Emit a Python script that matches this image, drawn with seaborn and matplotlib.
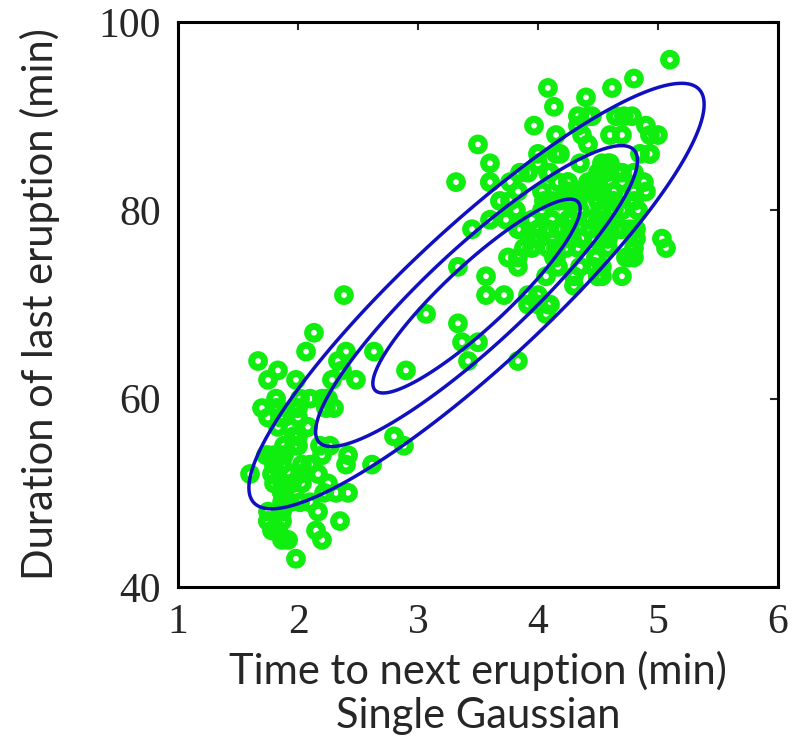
import numpy as np
import pandas as pd
import matplotlib
matplotlib.use("Agg")
import matplotlib.pyplot as plt
import seaborn as sns

# Old Faithful data: x = eruption duration, y = waiting time
x_vals = [3.600, 1.800, 3.333, 2.283, 4.533, 2.883, 4.700, 3.600, 1.950, 4.350,
          1.833, 3.917, 4.200, 1.750, 4.700, 2.167, 1.750, 4.800, 1.600, 4.250,
          1.800, 1.750, 3.450, 3.067, 4.533, 3.600, 1.967, 4.083, 3.850, 4.433,
          4.300, 4.467, 3.367, 4.033, 3.833, 2.017, 1.867, 4.833, 1.833, 4.783,
          4.350, 1.883, 4.567, 1.750, 4.533, 3.317, 3.833, 2.100, 4.633, 2.000,
          4.800, 4.716, 1.833, 4.833, 1.733, 4.883, 3.717, 1.667, 4.567, 4.317,
          2.233, 4.500, 1.750, 4.800, 1.817, 4.400, 4.167, 4.700, 2.067, 4.700,
          4.033, 1.967, 4.500, 4.000, 1.983, 5.067, 2.017, 4.567, 3.883, 3.600,
          4.133, 4.333, 4.100, 2.633, 4.067, 4.933, 3.950, 4.517, 2.167, 4.000,
          2.200, 4.333, 1.867, 4.817, 1.833, 4.300, 4.667, 3.750, 1.867, 4.900,
          2.483, 4.367, 2.100, 4.500, 4.050, 1.867, 4.700, 1.783, 4.850, 3.683,
          4.733, 2.300, 4.900, 4.417, 1.700, 4.633, 2.317, 4.600, 1.817, 4.417,
          2.617, 4.067, 4.250, 1.967, 4.600, 3.767, 1.917, 4.500, 2.267, 4.650,
          1.867, 4.167, 2.800, 4.333, 1.833, 4.383, 1.883, 4.933, 2.033, 3.733,
          4.233, 2.233, 4.533, 4.817, 4.333, 1.983, 4.633, 2.017, 5.100, 1.800,
          5.033, 4.000, 2.400, 4.600, 3.567, 4.000, 4.500, 4.083, 1.800, 3.967,
          2.200, 4.150, 2.000, 3.833, 3.500, 4.583, 2.367, 5.000, 1.933, 4.617,
          1.917, 2.083, 4.583, 3.333, 4.167, 4.333, 4.500, 2.417, 4.000, 4.167,
          1.883, 4.583, 4.250, 3.767, 2.033, 4.433, 4.083, 1.833, 4.417, 2.183,
          4.800, 1.833, 4.800, 4.100, 3.966, 4.233, 3.500, 4.366, 2.250, 4.667,
          2.100, 4.350, 4.133, 1.867, 4.600, 1.783, 4.367, 3.850, 1.933, 4.500,
          2.383, 4.700, 1.867, 3.833, 3.417, 4.233, 2.400, 4.800, 2.000, 4.150,
          1.867, 4.267, 1.750, 4.483, 4.000, 4.117, 4.083, 4.267, 3.917, 4.550,
          4.083, 2.417, 4.183, 2.217, 4.450, 1.883, 1.850, 4.283, 3.950, 2.333,
          4.150, 2.350, 4.933, 2.900, 4.583, 3.833, 2.083, 4.367, 2.133, 4.350,
          2.200, 4.450, 3.567, 4.500, 4.150, 3.817, 3.917, 4.450, 2.000, 4.283,
          4.767, 4.533, 1.850, 4.250, 1.983, 2.250, 4.750, 4.117, 2.150, 4.417,
          1.817, 4.467]
y_vals = [79, 54, 74, 62, 85, 55, 88, 85, 51, 85,
          54, 84, 78, 47, 83, 52, 62, 84, 52, 79,
          51, 47, 78, 69, 74, 83, 55, 76, 78, 79,
          73, 77, 66, 80, 74, 52, 48, 80, 59, 90,
          80, 58, 84, 58, 73, 83, 64, 53, 82, 59,
          75, 90, 54, 80, 54, 83, 71, 64, 77, 81,
          59, 84, 48, 82, 60, 92, 78, 78, 65, 73,
          82, 56, 79, 71, 62, 76, 60, 78, 76, 83,
          75, 82, 70, 65, 73, 88, 76, 80, 48, 86,
          60, 90, 50, 78, 63, 72, 84, 75, 51, 82,
          62, 88, 49, 83, 81, 47, 84, 52, 86, 81,
          75, 59, 89, 79, 59, 81, 50, 85, 59, 87,
          53, 69, 77, 56, 88, 81, 45, 82, 55, 90,
          45, 83, 56, 89, 46, 82, 51, 86, 53, 79,
          81, 60, 82, 77, 76, 59, 80, 49, 96, 53,
          77, 77, 65, 81, 71, 70, 81, 93, 53, 89,
          45, 86, 58, 78, 66, 76, 63, 88, 52, 93,
          49, 57, 77, 68, 81, 81, 73, 50, 85, 74,
          55, 77, 83, 83, 51, 78, 84, 46, 83, 55,
          81, 57, 76, 84, 77, 81, 87, 77, 51, 78,
          60, 82, 91, 53, 78, 46, 77, 84, 49, 83,
          71, 80, 49, 75, 64, 76, 53, 94, 55, 76,
          50, 82, 54, 75, 78, 79, 78, 78, 70, 79,
          70, 54, 86, 50, 90, 54, 54, 77, 79, 64,
          75, 47, 86, 63, 85, 82, 57, 82, 67, 74,
          54, 83, 73, 73, 88, 80, 71, 83, 56, 79,
          78, 84, 58, 83, 43, 60, 75, 81, 46, 90,
          46, 74]
x_ticks = [1, 2, 3, 4, 5, 6]
y_ticks = [40, 60, 80, 100]
contour_fractions = [0.25, 0.5, 0.75]  # fraction of peak density

df = pd.DataFrame({"x": x_vals, "y": y_vals})

sns.set_style("white")
fig = plt.figure(figsize=(7.93, 7.47), dpi=100)
ax = fig.add_axes([0.2245, 0.2142, 0.7565, 0.7563])

sns.scatterplot(data=df, x="x", y="y", ax=ax, marker="o", s=85,
                facecolor="none", edgecolor="#10EE10", linewidth=5.0,
                legend=False, zorder=2)

# single Gaussian fitted to the data
X = np.column_stack([df["x"], df["y"]])
mu = X.mean(axis=0)
cov = np.cov(X, rowvar=False, bias=True)
inv = np.linalg.inv(cov)
gx = np.linspace(1, 6, 500)
gy = np.linspace(40, 100, 500)
GX, GY = np.meshgrid(gx, gy)
D = np.stack([GX - mu[0], GY - mu[1]], axis=-1)
m = np.einsum("...i,ij,...j->...", D, inv, D)
dens = np.exp(-0.5 * m)
ax.contour(GX, GY, dens, levels=contour_fractions, colors="#1010C0",
           linewidths=2.5, zorder=3)

ax.set_xlim(1, 6)
ax.set_ylim(40, 100)
ax.set_xticks(x_ticks)
ax.set_yticks(y_ticks)
for s in ax.spines.values():
    s.set_visible(True)
    s.set_linewidth(2.2)
    s.set_color("black")
ax.tick_params(direction="in", length=6, width=1.5, top=True, right=True,
               labelsize=30, pad=12)
for lab in ax.get_xticklabels() + ax.get_yticklabels():
    lab.set_fontfamily("Liberation Serif")

ax.set_xlabel("Time to next eruption (min)\nSingle Gaussian",
              fontsize=30, family=["Lato", "DejaVu Sans"], labelpad=6,
              linespacing=1.2)
ax.set_ylabel("Duration of last eruption (min)",
              fontsize=30, family=["Lato", "DejaVu Sans"], labelpad=28)

fig.savefig("out.png", dpi=100)
